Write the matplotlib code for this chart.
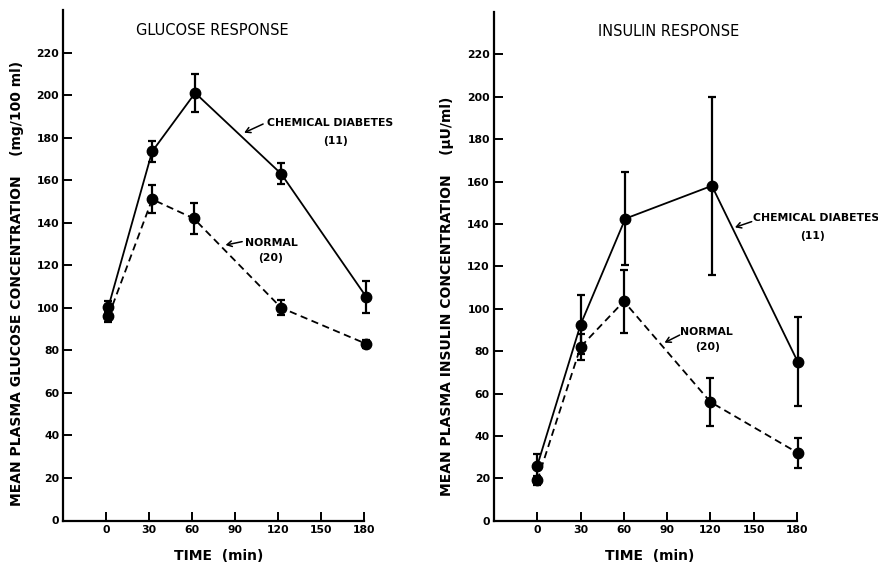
import matplotlib
matplotlib.use("Agg")
import matplotlib.pyplot as plt

# time points (min)
glu_t_diab = [1.5, 32, 62, 122, 181.5]
glu_t_norm = [1.5, 32, 61, 122, 181.5]
ins_t_diab = [0, 30, 61, 121, 180.5]
ins_t_norm = [0, 30, 60, 120, 180.5]

# glucose (mg/100 ml)
glu_diab = [100.5, 173.5, 201, 163, 105]
glu_diab_err = [2.5, 5, 9, 5, 7.5]
glu_norm = [96, 151, 142, 100, 83]
glu_norm_err = [2.5, 6.5, 7.2, 3.5, 2]

# insulin (uU/ml)
ins_diab = [26, 92.5, 142.5, 158, 75]
ins_diab_err = [5.5, 14, 22, 42, 21]
ins_norm = [19, 82, 103.5, 56, 32]
ins_norm_err = [2, 6, 15, 11.5, 7]

xticks = [0, 30, 60, 90, 120, 150, 180]
yticks = list(range(0, 221, 20))

W, H = 879, 565
fig = plt.figure(figsize=(W / 100, H / 100), dpi=100)
fig.patch.set_facecolor("white")


def style_axes(ax):
    ax.set_xlim(-30, 180)
    ax.set_ylim(0, 240)
    for side in ("top", "right"):
        ax.spines[side].set_visible(False)
    for side in ("left", "bottom"):
        ax.spines[side].set_linewidth(1.6)
    ax.set_xticks(xticks)
    ax.set_yticks(yticks)
    ax.tick_params(direction="in", length=6.5, width=1.4, pad=3,
                   labelsize=7.8)
    for lab in ax.get_xticklabels() + ax.get_yticklabels():
        lab.set_fontweight("bold")
    ax.set_xlabel("TIME  (min)", fontsize=10, fontweight="bold")
    ax.xaxis.label.set_va("center")
    ax.xaxis.set_label_coords(0.515, -(556 - 520.5) / 510.5)


def draw_series(ax, t, y, err, ls):
    eb = ax.errorbar(t, y, yerr=err, fmt="o", ls=ls, color="black", lw=1.3,
                     ms=7.5, elinewidth=1.6, capsize=2.8, capthick=1.6,
                     dashes=(4, 2.5) if ls == "--" else (None, None))
    for art in eb.get_children():
        art.set_clip_on(False)


def label(ax, text, xy, num, num_xy, tip, tail):
    ax.text(xy[0], xy[1], text, fontsize=7.8, fontweight="bold",
            ha="left", va="center", clip_on=False)
    ax.text(num_xy[0], num_xy[1], num, fontsize=7.8, fontweight="bold",
            ha="center", va="center", clip_on=False)
    ax.annotate("", xy=tip, xytext=tail,
                arrowprops=dict(arrowstyle="->,head_length=0.35,head_width=0.2",
                                lw=1.1, color="black", shrinkA=0, shrinkB=0))


# glucose panel
ax1 = fig.add_axes([63.3 / W, 1 - 520.5 / H, 301 / W, 510.5 / H])
style_axes(ax1)
draw_series(ax1, glu_t_diab, glu_diab, glu_diab_err, "-")
draw_series(ax1, glu_t_norm, glu_norm, glu_norm_err, "--")
ax1.text(74, 230.5, "GLUCOSE RESPONSE", fontsize=10.5, ha="center", va="center")
label(ax1, "CHEMICAL DIABETES", (112, 186.7), "(11)", (159.6, 178.4),
      (96.2, 182.3), (109.4, 186.4))
label(ax1, "NORMAL", (96.9, 130.3), "(20)", (114.3, 123.3),
      (83.2, 129.5), (94.8, 131.1))
fig.text(17 / W, 1 - 283.5 / H,
         "MEAN PLASMA GLUCOSE CONCENTRATION    (mg/100 ml)",
         rotation=90, fontsize=10, fontweight="bold", ha="center", va="center")

# insulin panel
ax2 = fig.add_axes([494 / W, 1 - 520.7 / H, 303 / W, 508.7 / H])
style_axes(ax2)
draw_series(ax2, ins_t_diab, ins_diab, ins_diab_err, "-")
draw_series(ax2, ins_t_norm, ins_norm, ins_norm_err, "--")
ax2.text(91, 231, "INSULIN RESPONSE", fontsize=10.5, ha="center", va="center")
label(ax2, "CHEMICAL DIABETES", (149.7, 142.6), "(11)", (190.4, 134.2),
      (137, 138.4), (148.6, 141.1))
label(ax2, "NORMAL", (98.7, 89.2), "(20)", (117.7, 82.1),
      (88.2, 84), (98.7, 87.6))
fig.text(447.5 / W, 1 - 296.5 / H,
         "MEAN PLASMA INSULIN CONCENTRATION    (\u00b5U/ml)",
         rotation=90, fontsize=10, fontweight="bold", ha="center", va="center")

fig.savefig("out.png", dpi=100, facecolor="white")
